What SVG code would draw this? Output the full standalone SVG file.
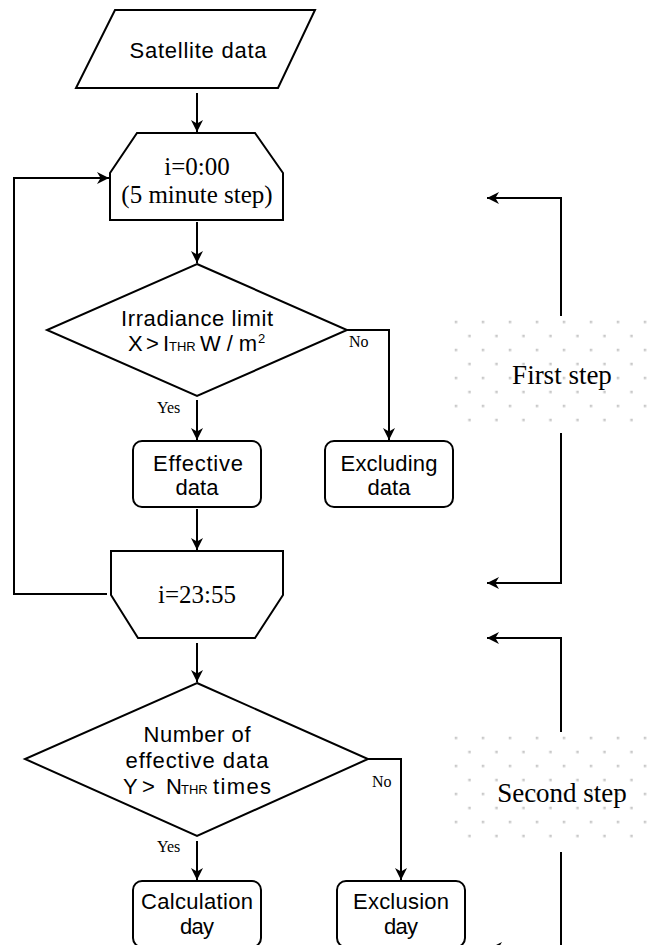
<svg xmlns="http://www.w3.org/2000/svg" width="655" height="945" viewBox="0 0 655 945">
<style>
.shape{fill:#fff;stroke:#000;stroke-width:2;stroke-linejoin:miter}
.conn{fill:none;stroke:#000;stroke-width:2}
.sans{font-family:"Liberation Sans",Arial,sans-serif;font-size:22px;fill:#000;text-anchor:middle}
.st{text-anchor:start}
.serif{font-family:"Liberation Serif","Times New Roman",serif;fill:#000}
.big{font-size:25px;text-anchor:middle}
.step{font-size:27px;text-anchor:middle}
.lbl{font-size:16px}
.sub{font-size:13px}
</style>
<defs>
<marker id="arr" markerUnits="userSpaceOnUse" markerWidth="12" markerHeight="12" viewBox="0 0 10 10" refX="10" refY="5" orient="auto">
<path d="M0,0 L10,5 L0,10 L3,5 z" fill="#000"/>
</marker>
<pattern id="dots" patternUnits="userSpaceOnUse" x="454.75" y="320.75" width="27" height="28">
<rect x="0" y="0" width="2.5" height="2.5" fill="#c8c8c8"/>
<rect x="13.5" y="14" width="2.5" height="2.5" fill="#c8c8c8"/>
</pattern>
<pattern id="dots2" patternUnits="userSpaceOnUse" x="454.75" y="736.75" width="27" height="28">
<rect x="0" y="0" width="2.5" height="2.5" fill="#c8c8c8"/>
<rect x="13.5" y="14" width="2.5" height="2.5" fill="#c8c8c8"/>
</pattern>
</defs>

<g id="step-labels">
<rect x="452" y="318" width="203" height="106" fill="url(#dots)"/>
<text class="serif step" x="562" y="384">First step</text>
<rect x="452" y="734" width="203" height="106" fill="url(#dots2)"/>
<text class="serif step" x="562" y="802">Second step</text>
</g>

<g id="connectors">
<path class="conn" d="M197,93 V132" marker-end="url(#arr)"/>
<path class="conn" d="M197,222 V263" marker-end="url(#arr)"/>
<path class="conn" d="M197,400 V440" marker-end="url(#arr)"/>
<path class="conn" d="M347,330 H389 V440" marker-end="url(#arr)"/>
<path class="conn" d="M197,509 V550" marker-end="url(#arr)"/>
<path class="conn" d="M107,594 H14 V178 H109" marker-end="url(#arr)"/>
<path class="conn" d="M197,643 V682" marker-end="url(#arr)"/>
<path class="conn" d="M197,841 V880" marker-end="url(#arr)"/>
<path class="conn" d="M368,759 H401 V880" marker-end="url(#arr)"/>
<path class="conn" d="M561,316 V198 H487" marker-end="url(#arr)"/>
<path class="conn" d="M561,433 V583 H487" marker-end="url(#arr)"/>
<path class="conn" d="M561,732 V638 H487" marker-end="url(#arr)"/>
<path class="conn" d="M561,852 V948 H490" marker-end="url(#arr)"/>
<text class="serif lbl" x="157" y="413">Yes</text>
<text class="serif lbl" x="349" y="347">No</text>
<text class="serif lbl" x="157" y="852">Yes</text>
<text class="serif lbl" x="372" y="787">No</text>
</g>

<g id="satellite-data">
<polygon class="shape" points="115,10 315,10 278,88 76,88"/>
<text class="sans" x="198" y="58" textLength="137">Satellite data</text>
</g>

<g id="loop-start">
<polygon class="shape" points="137,133 255,133 283,173 283,220 110,220 110,173"/>
<text class="serif big" x="197" y="175">i=0:00</text>
<text class="serif big" x="197" y="203">(5 minute step)</text>
</g>

<g id="irradiance-limit">
<polygon class="shape" points="197,264 347,330 197,396 47,330"/>
<text class="sans" x="197" y="326" textLength="152">Irradiance limit</text>
<text class="sans st" y="351"><tspan x="128">X</tspan><tspan x="146">&gt;</tspan><tspan x="163">I</tspan><tspan class="sub" x="169">THR</tspan><tspan x="200" textLength="57">W/m</tspan><tspan class="sub" x="258" dy="-8">2</tspan></text>
</g>

<g id="effective-data">
<rect class="shape" x="133" y="441" width="128" height="66" rx="9"/>
<text class="sans" x="198" y="471" textLength="90">Effective</text>
<text class="sans" x="197" y="495" textLength="43">data</text>
</g>

<g id="excluding-data">
<rect class="shape" x="325" y="441" width="128" height="66" rx="9"/>
<text class="sans" x="389" y="471" textLength="97">Excluding</text>
<text class="sans" x="389" y="495" textLength="43">data</text>
</g>

<g id="loop-end">
<polygon class="shape" points="111,551 283,551 283,595 255,638 138,638 111,595"/>
<text class="serif big" x="197" y="603">i=23:55</text>
</g>

<g id="effective-count">
<polygon class="shape" points="197,683 368,759 197,836 25,759"/>
<text class="sans" x="197" y="742" textLength="107">Number of</text>
<text class="sans" x="197" y="768" textLength="143">effective data</text>
<text class="sans st" y="794"><tspan x="123">Y</tspan><tspan x="142">&gt;</tspan><tspan x="166">N</tspan><tspan class="sub" x="181">THR</tspan><tspan x="213" textLength="58">times</tspan></text>
</g>

<g id="calculation-day">
<rect class="shape" x="133" y="881" width="128" height="66" rx="9"/>
<text class="sans" x="197" y="909" textLength="112">Calculation</text>
<text class="sans" x="197" y="934" textLength="34">day</text>
</g>

<g id="exclusion-day">
<rect class="shape" x="337" y="881" width="128" height="66" rx="9"/>
<text class="sans" x="401" y="909" textLength="96">Exclusion</text>
<text class="sans" x="401" y="934" textLength="34">day</text>
</g>
</svg>
